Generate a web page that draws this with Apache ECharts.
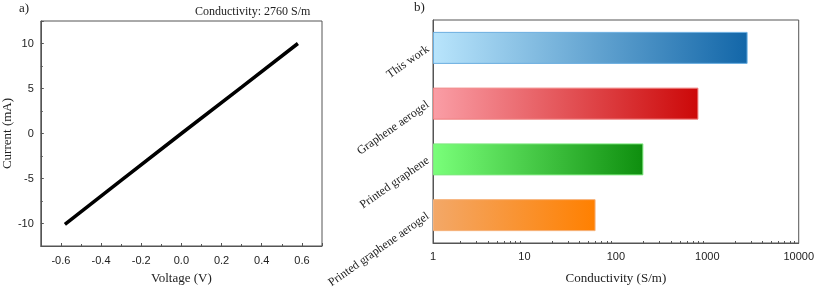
<!DOCTYPE html>
<html>
<head>
<meta charset="utf-8">
<script src="https://cdn.jsdelivr.net/npm/echarts@6/dist/echarts.min.js"></script>
<style>html,body{margin:0;padding:0;background:#fff}#c{width:817px;height:290px}</style>
</head>
<body>
<div id="c"></div>
<script>
// Panel a) I-V curve
const ivVoltage = [-0.58, -0.3, 0, 0.3, 0.58];
const ivCurrent = [-10.1, -5.2, 0, 5.15, 10.0];
const conductivityNote = 'Conductivity: 2760 S/m';
// Panel b) conductivity comparison
const categories = ['This work', 'Graphene aerogel', 'Printed graphene', 'Printed graphene aerogel'];
const conductivity = [2760, 800, 200, 60];
const gradientStops = [
  ['#b9e5fc', '#1266a8'],
  ['#fa9ea6', '#cc0808'],
  ['#7aff7a', '#0e8e0e'],
  ['#f3a868', '#ff8000']
];
const borderColors = ['#6aaee0', '#f08080', '#7fe87f', '#f6b27a'];
const logMajor = [1, 10, 100, 1000, 10000];
const logMinor = [];
[1, 10, 100, 1000].forEach(d => { for (let k = 2; k <= 9; k++) logMinor.push(d * k); });

const serif = '"Liberation Serif", "Times New Roman", serif';
const sans = '"Liberation Sans", Arial, sans-serif';
const axisCol = '#555';

const chart = echarts.init(document.getElementById('c'), null, {renderer: 'canvas'});
chart.setOption({
  animation: false,
  backgroundColor: '#fff',
  graphic: [
    {type: 'text', left: 19, top: 2, style: {text: 'a)', font: '13px ' + serif, fill: '#222'}},
    {type: 'text', left: 414, top: 1, style: {text: 'b)', font: '13px ' + serif, fill: '#222'}},
    {type: 'text', left: 195, top: 6, style: {text: conductivityNote, font: '12px ' + serif, fill: '#222'}}
  ],
  grid: [
    {left: 36, right: 495, top: 21, bottom: 41, show: true, borderColor: axisCol, borderWidth: 1, backgroundColor: 'transparent'},
    {left: 433, right: 16, top: 20, bottom: 41, show: true, borderColor: axisCol, borderWidth: 1, backgroundColor: 'transparent'}
  ],
  xAxis: [
    {
      gridIndex: 0, type: 'value', min: -0.7, max: 0.7, splitNumber: 7, position: 'bottom',
      name: 'Voltage (V)', nameLocation: 'middle', nameGap: 26,
      nameTextStyle: {fontFamily: serif, fontSize: 13, color: '#222'},
      axisLine: {onZero: false, lineStyle: {color: axisCol}},
      axisTick: {inside: true, length: 3, lineStyle: {color: axisCol}},
      minorTick: {show: true, splitNumber: 2, length: 2, lineStyle: {color: axisCol}},
      splitLine: {show: false},
      axisLabel: {fontFamily: sans, fontSize: 11, color: '#222', margin: 9, showMinLabel: false, showMaxLabel: false,
        formatter: v => v.toFixed(1)}
    },
    {
      gridIndex: 1, type: 'log', logBase: 10, min: 1, max: 10000, position: 'bottom',
      name: 'Conductivity (S/m)', nameLocation: 'middle', nameGap: 29,
      nameTextStyle: {fontFamily: serif, fontSize: 13, color: '#222'},
      axisLine: {onZero: false, lineStyle: {color: axisCol}},
      axisTick: {inside: true, length: 4, customValues: logMajor, lineStyle: {color: axisCol}},
      splitLine: {show: false},
      axisLabel: {fontFamily: sans, fontSize: 11, color: '#222', margin: 8, customValues: logMajor,
        formatter: v => String(Math.round(v))}
    },
    {
      gridIndex: 1, type: 'log', logBase: 10, min: 1, max: 10000, position: 'bottom',
      axisLine: {show: true, onZero: false, lineStyle: {color: axisCol}},
      axisTick: {show: true, inside: true, length: 2, customValues: logMinor, lineStyle: {color: axisCol}},
      axisLabel: {show: false},
      splitLine: {show: false}
    }
  ],
  yAxis: [
    {
      gridIndex: 0, type: 'value', min: -12.5, max: 12.5, splitNumber: 5, position: 'left',
      name: 'Current (mA)', nameLocation: 'middle', nameGap: 25, nameRotate: 90,
      nameTextStyle: {fontFamily: serif, fontSize: 13, color: '#222'},
      axisLine: {show: true, onZero: false, lineStyle: {color: axisCol}},
      axisTick: {show: true, inside: true, length: 3, lineStyle: {color: axisCol}},
      minorTick: {show: true, splitNumber: 2, length: 2, lineStyle: {color: axisCol}},
      splitLine: {show: false},
      axisLabel: {fontFamily: sans, fontSize: 11, color: '#222', margin: 7, showMinLabel: false, showMaxLabel: false}
    },
    {
      gridIndex: 1, type: 'category', data: categories, inverse: true,
      axisLine: {show: true, lineStyle: {color: axisCol}},
      axisTick: {show: false},
      splitLine: {show: false},
      axisLabel: {fontFamily: serif, fontSize: 12, color: '#222', rotate: 35, margin: 5}
    }
  ],
  series: [
    {
      type: 'line', xAxisIndex: 0, yAxisIndex: 0,
      data: ivVoltage.map((v, i) => [v, ivCurrent[i]]),
      symbol: 'none', lineStyle: {color: '#000', width: 3.5}, itemStyle: {color: '#000'}
    },
    {
      type: 'bar', xAxisIndex: 1, yAxisIndex: 1, barWidth: 32,
      data: conductivity.map((v, i) => ({
        value: v,
        itemStyle: {
          color: new echarts.graphic.LinearGradient(0, 0, 1, 0, [
            {offset: 0, color: gradientStops[i][0]},
            {offset: 1, color: gradientStops[i][1]}
          ]),
          borderColor: borderColors[i], borderWidth: 1
        }
      }))
    }
  ]
});
</script>
</body>
</html>
